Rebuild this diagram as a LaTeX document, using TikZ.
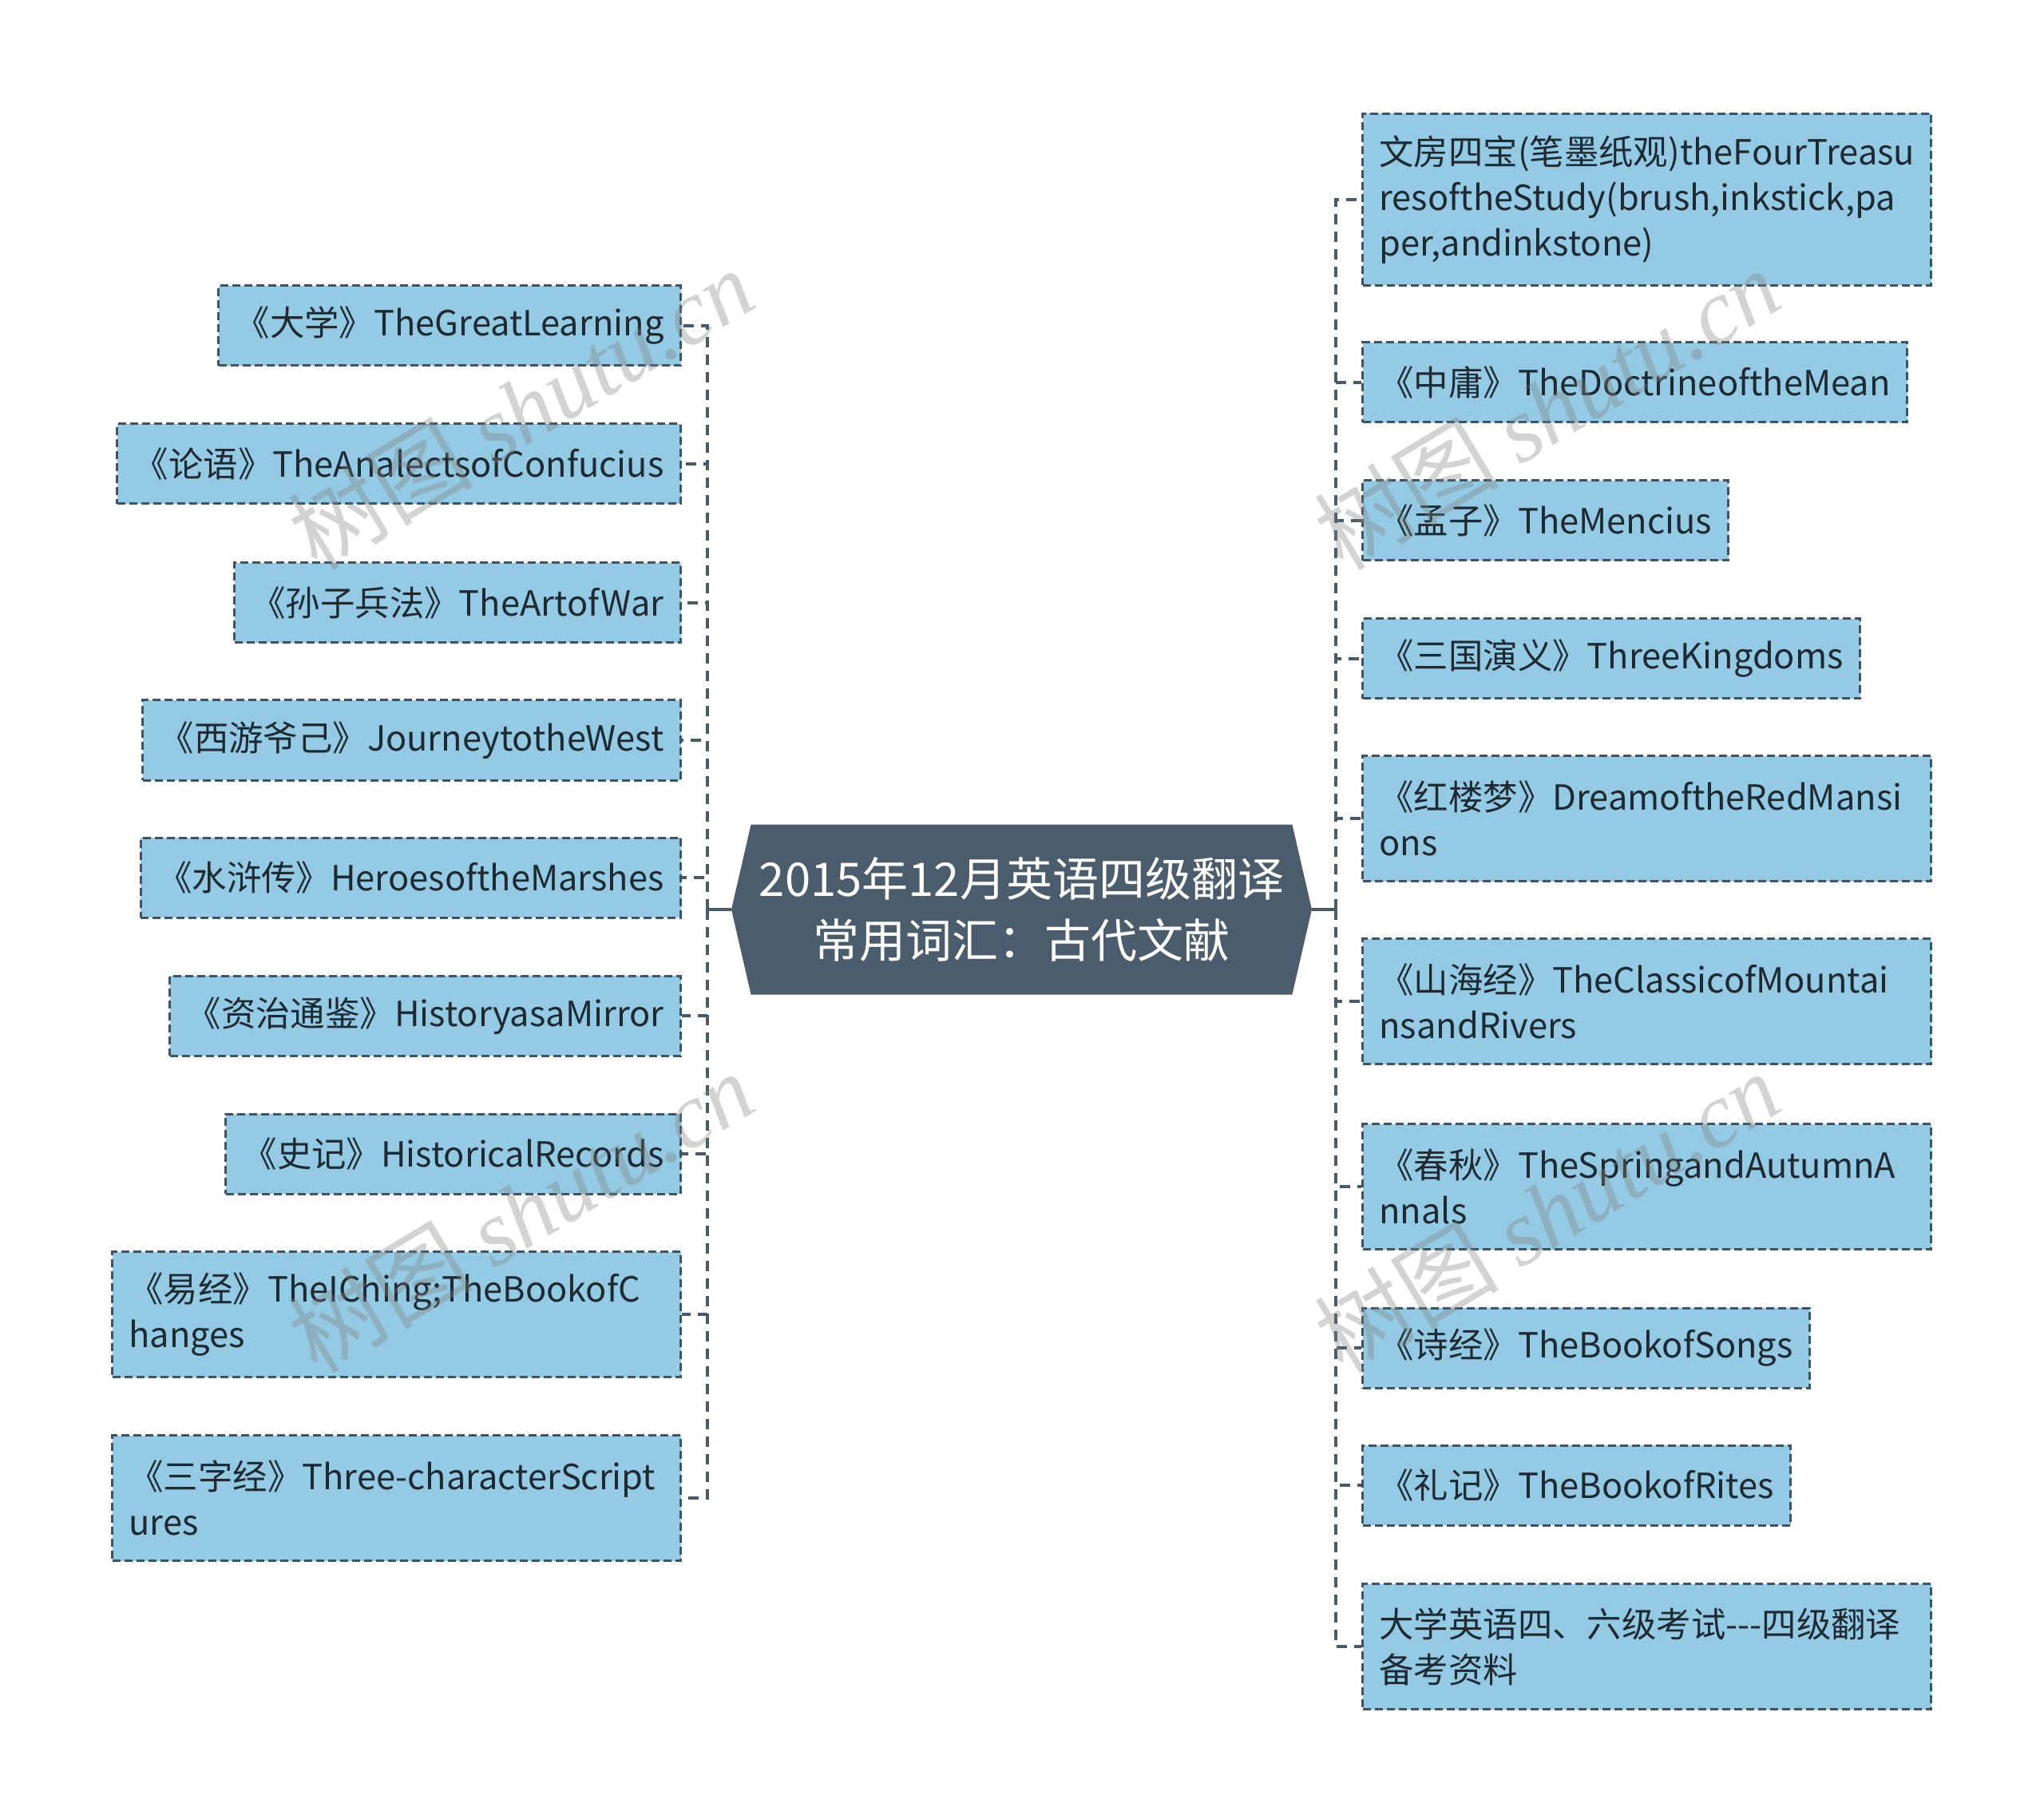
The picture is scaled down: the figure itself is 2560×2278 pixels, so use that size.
\documentclass[tikz,border=0pt]{standalone}
\usepackage{fontspec}
\setmainfont{Noto Sans CJK SC}
\newfontfamily\markfont{Liberation Serif}
\usetikzlibrary{shapes.symbols}
\definecolor{leafFill}{HTML}{94CAE3}
\definecolor{leafLine}{HTML}{3E5465}
\definecolor{leafText}{HTML}{1E2A33}
\definecolor{rootFill}{HTML}{4B5D6C}
\definecolor{linkLine}{HTML}{4A5A68}
\begin{document}
\begin{tikzpicture}
[x=0.5pt,y=-0.5pt,
  lineDecorate/.style={draw=linkLine,line width=2pt,dash pattern=on 6.5pt off 4.5pt},%
  stemDecorate/.style={draw=linkLine,line width=2pt},%
  leafDecorate/.style={shape=rectangle,draw=leafLine,fill=leafFill,line width=1.5pt,
    dash pattern=on 5pt off 2.5pt,minimum height=50pt,inner xsep=10.5pt,inner ysep=0pt,
    text=leafText,font=\fontsize{21.7}{28.5}\selectfont,align=left},%
  twoLine/.style={leafDecorate,text width=335pt,minimum height=78.5pt},%
  threeLine/.style={leafDecorate,text width=335pt,minimum height=107.5pt},%
  rootDecorate/.style={shape=signal,signal to=west and east,signal pointer angle=154,
    fill=rootFill,text=white,minimum width=363.5pt,minimum height=106.5pt,inner sep=0pt,
    font=\fontsize{29}{38.5}\selectfont,align=center},%
  markDecorate/.style={text=gray,opacity=0.35,rotate=31,font=\fontsize{58}{60}\selectfont}]
\useasboundingbox (0,0) rectangle (2560,2278);
%% root
\node (root) at (1279.5,1139) [rootDecorate] {2015年12月英语四级翻译\\常用词汇：古代文献};
\coordinate (leftTrunk) at (886,1139);
\coordinate (rightTrunk) at (1673,1139);
%% left leaves
\foreach \nodename/\y/\kind/\label in {
  l1/408/leafDecorate/{《大学》TheGreatLearning},
  l2/581/leafDecorate/{《论语》TheAnalectsofConfucius},
  l3/755/leafDecorate/{《孙子兵法》TheArtofWar},
  l4/927/leafDecorate/{《西游爷己》JourneytotheWest},
  l5/1099/leafDecorate/{《水浒传》HeroesoftheMarshes},
  l6/1272/leafDecorate/{《资治通鉴》HistoryasaMirror},
  l7/1445/leafDecorate/{《史记》HistoricalRecords},
  l8/1646/twoLine/{《易经》TheIChing;TheBookofC\\hanges},
  l9/1876/twoLine/{《三字经》Three-characterScript\\ures}}
{
  \node (\nodename) at (854,\y) [\kind,anchor=east] {\label};
}
%% right leaves
\foreach \nodename/\y/\kind/\label in {
  r1/250/threeLine/{文房四宝(笔墨纸观)theFourTreasu\\resoftheStudy(brush,inkstick,pa\\per,andinkstone)},
  r2/479/leafDecorate/{《中庸》TheDoctrineoftheMean},
  r3/652/leafDecorate/{《孟子》TheMencius},
  r4/825/leafDecorate/{《三国演义》ThreeKingdoms},
  r5/1025/twoLine/{《红楼梦》DreamoftheRedMansi\\ons},
  r6/1254/twoLine/{《山海经》TheClassicofMountai\\nsandRivers},
  r7/1486/twoLine/{《春秋》TheSpringandAutumnA\\nnals},
  r8/1688/leafDecorate/{《诗经》TheBookofSongs},
  r9/1860/leafDecorate/{《礼记》TheBookofRites},
  r10/2062/twoLine/{大学英语四、六级考试{-}{-}{-}四级翻译\\备考资料}}
{
  \node (\nodename) at (1705,\y) [\kind,anchor=west] {\label};
}
%% edges or lines
\draw[stemDecorate] (root.west) -- (leftTrunk);
\draw[stemDecorate] (root.east) -- (rightTrunk);
\foreach \endnode in {l1,l2,l3,l4,l5,l6,l7,l8,l9}
{
  \draw[lineDecorate] (leftTrunk) |- (\endnode.east);
}
\foreach \endnode in {r1,r2,r3,r4,r5,r6,r7,r8,r9,r10}
{
  \draw[lineDecorate] (rightTrunk) |- (\endnode.west);
}
%% watermarks
\foreach \markname/\x/\y in {m1/652/512, m2/1937/512, m3/652/1518, m4/1937/1518}
{
  \node (\markname) at (\x,\y) [markDecorate] {树图 {\markfont\itshape shutu.cn}};
}
\end{tikzpicture}
\end{document}
